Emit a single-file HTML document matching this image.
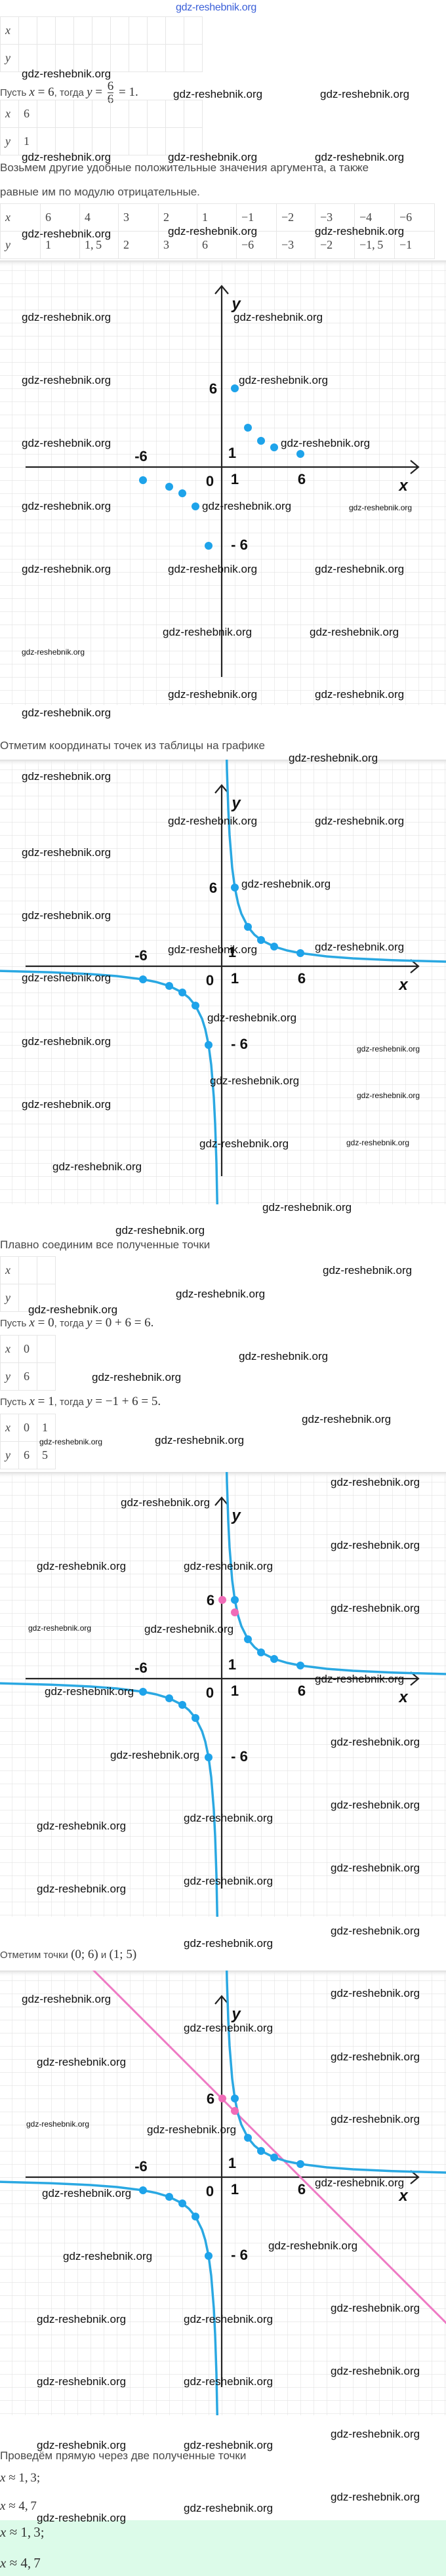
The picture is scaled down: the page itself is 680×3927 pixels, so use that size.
<!DOCTYPE html>
<html><head><meta charset="utf-8">
<style>
*{margin:0;padding:0;box-sizing:border-box}
body{width:680px;height:3927px;position:relative;background:#fff;overflow:hidden;font-family:"Liberation Sans",sans-serif;color:#444}
.a{position:absolute;white-space:nowrap}
.w{position:absolute;white-space:nowrap;font-family:"Liberation Sans",sans-serif;font-size:17px;line-height:20px;color:#111;z-index:5}
.ws{font-size:12px;line-height:14px}
.t{font-size:15px;line-height:20px;color:#4a4a4a}
.m{font-family:"Liberation Serif",serif;font-size:19px;color:#333}
.mi{font-style:italic}
table{position:absolute;border-collapse:collapse;font-family:"Liberation Serif",serif;font-size:18px;color:#444}
td{border:1px solid #e6e6e6;height:42px;padding-left:7px;vertical-align:middle}
.g{position:absolute;left:0;width:680px;height:678px}
.frac{display:inline-block;vertical-align:middle;text-align:center;line-height:19px;margin:0 3px}
.frac span{display:block}
.frac .n{border-bottom:1px solid #333}
</style></head><body>

<div class="a" style="left:268px;top:2px;font-size:16px;color:#3a5fd8;line-height:20px;letter-spacing:-0.3px">gdz-reshebnik.org</div>

<!-- Table 1 -->
<table style="top:25px;left:0"><tr><td style="width:28px" class="mi">x</td><td style="width:28px"></td><td style="width:28px"></td><td style="width:28px"></td><td style="width:28px"></td><td style="width:28px"></td><td style="width:28px"></td><td style="width:28px"></td><td style="width:28px"></td><td style="width:28px"></td><td style="width:28px"></td></tr>
<tr><td class="mi">y</td><td></td><td></td><td></td><td></td><td></td><td></td><td></td><td></td><td></td><td></td></tr></table>

<div class="a t" style="left:0;top:122px;line-height:24px">Пусть <span class="m"><i>x</i> = 6</span>, тогда <span class="m"><i>y</i> = <span class="frac"><span class="n">6</span><span>6</span></span> = 1.</span></div>

<table style="top:152px;left:0"><tr><td style="width:28px" class="mi">x</td><td style="width:28px">6</td><td style="width:28px"></td><td style="width:28px"></td><td style="width:28px"></td><td style="width:28px"></td><td style="width:28px"></td><td style="width:28px"></td><td style="width:28px"></td><td style="width:28px"></td><td style="width:28px"></td></tr>
<tr><td class="mi">y</td><td>1</td><td></td><td></td><td></td><td></td><td></td><td></td><td></td><td></td><td></td></tr></table>

<div class="a t" style="left:0;top:246px;font-size:17px">Возьмем другие удобные положительные значения аргумента, а также</div>
<div class="a t" style="left:0;top:283px;font-size:17px">равные им по модулю отрицательные.</div>

<table style="top:310px;left:0"><tr><td style="width:61px" class="mi">x</td><td style="width:60px">6</td><td style="width:59px">4</td><td style="width:61px">3</td><td style="width:59px">2</td><td style="width:60px">1</td><td style="width:61px">−1</td><td style="width:59px">−2</td><td style="width:60px">−3</td><td style="width:61px">−4</td><td style="width:61px">−6</td></tr>
<tr><td class="mi">y</td><td>1</td><td>1,&thinsp;5</td><td>2</td><td>3</td><td>6</td><td>−6</td><td>−3</td><td>−2</td><td>−1,&thinsp;5</td><td>−1</td></tr></table>

<!-- Graph 1 -->
<svg class="g" style="top:397px" viewBox="0 0 680 678">
<defs><pattern id="p1" x="18" y="15" width="20" height="20" patternUnits="userSpaceOnUse"><path d="M0 0H20M0 0V20" stroke="#e2e2e2" stroke-width="1.2" fill="none"/></pattern>
<linearGradient id="sh" x1="0" y1="0" x2="0" y2="1"><stop offset="0" stop-color="#ddd"/><stop offset="1" stop-color="#fff" stop-opacity="0"/></linearGradient></defs>
<rect width="680" height="678" fill="url(#p1)"/><rect width="680" height="10" fill="url(#sh)"/>
<g transform="translate(338,315)">
<path d="M-299 0H300M288-10L300 0L288 10M0 320V-276M-10-264L0-276L10-264" stroke="#222" stroke-width="2.2" fill="none"/>
<g fill="#1ea3ea"><circle cx="20" cy="-120" r="6"/><circle cx="40" cy="-60" r="6"/><circle cx="60" cy="-40" r="6"/><circle cx="80" cy="-30" r="6"/><circle cx="120" cy="-20" r="6"/><circle cx="-20" cy="120" r="6"/><circle cx="-40" cy="60" r="6"/><circle cx="-60" cy="40" r="6"/><circle cx="-80" cy="30" r="6"/><circle cx="-120" cy="20" r="6"/></g>
<g font-family="Liberation Sans,sans-serif" font-weight="bold" font-size="22" fill="#111" text-anchor="middle">
<text x="22" y="-241" font-style="italic" font-size="24">y</text><text x="-13" y="-112">6</text><text x="16" y="-14">1</text><text x="-123" y="-9">-6</text><text x="-18" y="29">0</text><text x="20" y="26">1</text><text x="122" y="26">6</text><text x="277" y="36" font-style="italic" font-size="24">x</text><text x="27" y="126">- 6</text></g>
</g></svg>

<div class="a t" style="left:0;top:1127px;font-size:17px">Отметим координаты точек из таблицы на графике</div>

<!-- Graph 2 -->
<svg class="g" style="top:1158px" viewBox="0 0 680 678">
<defs><pattern id="p2" x="18" y="15" width="20" height="20" patternUnits="userSpaceOnUse"><path d="M0 0H20M0 0V20" stroke="#e2e2e2" stroke-width="1.2" fill="none"/></pattern></defs>
<rect width="680" height="678" fill="url(#p2)"/><rect width="680" height="10" fill="url(#sh)"/>
<g transform="translate(338,315)">
<path d="M-299 0H300M288-10L300 0L288 10M0 320V-276M-10-264L0-276L10-264" stroke="#222" stroke-width="2.2" fill="none"/>
<path d="M6-400L8-300L10-240L12-200L16-150L20-120L25-96L30-80L40-60L50-48L60-40L80-30L100-24L120-20L160-15L200-12L260-9.2L342-7" stroke="#2aa8e2" stroke-width="3.5" fill="none"/>
<path d="M-6 400L-8 300L-10 240L-12 200L-16 150L-20 120L-25 96L-30 80L-40 60L-50 48L-60 40L-80 30L-100 24L-120 20L-160 15L-200 12L-260 9.2L-342 7" stroke="#2aa8e2" stroke-width="3.5" fill="none"/>
<g fill="#1ea3ea"><circle cx="20" cy="-120" r="6"/><circle cx="40" cy="-60" r="6"/><circle cx="60" cy="-40" r="6"/><circle cx="80" cy="-30" r="6"/><circle cx="120" cy="-20" r="6"/><circle cx="-20" cy="120" r="6"/><circle cx="-40" cy="60" r="6"/><circle cx="-60" cy="40" r="6"/><circle cx="-80" cy="30" r="6"/><circle cx="-120" cy="20" r="6"/></g>
<g font-family="Liberation Sans,sans-serif" font-weight="bold" font-size="22" fill="#111" text-anchor="middle">
<text x="22" y="-241" font-style="italic" font-size="24">y</text><text x="-13" y="-112">6</text><text x="16" y="-14">1</text><text x="-123" y="-9">-6</text><text x="-18" y="29">0</text><text x="20" y="26">1</text><text x="122" y="26">6</text><text x="277" y="36" font-style="italic" font-size="24">x</text><text x="27" y="126">- 6</text></g>
</g></svg>

<div class="a t" style="left:0;top:1888px;font-size:17px">Плавно соединим все полученные точки</div>
<table style="top:1915px;left:0"><tr><td style="width:28px" class="mi">x</td><td style="width:28px"></td><td style="width:28px"></td></tr><tr><td class="mi">y</td><td></td><td></td></tr></table>
<div class="a t" style="left:0;top:2005px;line-height:24px">Пусть <span class="m"><i>x</i> = 0</span>, тогда <span class="m"><i>y</i> = 0 + 6 = 6.</span></div>
<table style="top:2035px;left:0"><tr><td style="width:28px" class="mi">x</td><td style="width:28px">0</td><td style="width:28px"></td></tr><tr><td class="mi">y</td><td>6</td><td></td></tr></table>
<div class="a t" style="left:0;top:2125px;line-height:24px">Пусть <span class="m"><i>x</i> = 1</span>, тогда <span class="m"><i>y</i> = −1 + 6 = 5.</span></div>
<table style="top:2155px;left:0"><tr><td style="width:28px" class="mi">x</td><td style="width:28px">0</td><td style="width:28px">1</td></tr><tr><td class="mi">y</td><td>6</td><td>5</td></tr></table>

<!-- Graph 3 -->
<svg class="g" style="top:2244px" viewBox="0 0 680 678">
<defs><pattern id="p3" x="18" y="15" width="20" height="20" patternUnits="userSpaceOnUse"><path d="M0 0H20M0 0V20" stroke="#e2e2e2" stroke-width="1.2" fill="none"/></pattern></defs>
<rect width="680" height="678" fill="url(#p3)"/><rect width="680" height="10" fill="url(#sh)"/>
<g transform="translate(338,315)">
<path d="M-299 0H300M288-10L300 0L288 10M0 320V-276M-10-264L0-276L10-264" stroke="#222" stroke-width="2.2" fill="none"/>
<path d="M6-400L8-300L10-240L12-200L16-150L20-120L25-96L30-80L40-60L50-48L60-40L80-30L100-24L120-20L160-15L200-12L260-9.2L342-7" stroke="#2aa8e2" stroke-width="3.5" fill="none"/>
<path d="M-6 400L-8 300L-10 240L-12 200L-16 150L-20 120L-25 96L-30 80L-40 60L-50 48L-60 40L-80 30L-100 24L-120 20L-160 15L-200 12L-260 9.2L-342 7" stroke="#2aa8e2" stroke-width="3.5" fill="none"/>
<g fill="#1ea3ea"><circle cx="20" cy="-120" r="6"/><circle cx="40" cy="-60" r="6"/><circle cx="60" cy="-40" r="6"/><circle cx="80" cy="-30" r="6"/><circle cx="120" cy="-20" r="6"/><circle cx="-20" cy="120" r="6"/><circle cx="-40" cy="60" r="6"/><circle cx="-60" cy="40" r="6"/><circle cx="-80" cy="30" r="6"/><circle cx="-120" cy="20" r="6"/></g>
<g fill="#f06cb8"><circle cx="1" cy="-120" r="6"/><circle cx="20" cy="-101" r="6"/></g>
<g font-family="Liberation Sans,sans-serif" font-weight="bold" font-size="22" fill="#111" text-anchor="middle">
<text x="22" y="-241" font-style="italic" font-size="24">y</text><text x="-17" y="-112">6</text><text x="16" y="-14">1</text><text x="-123" y="-9">-6</text><text x="-18" y="29">0</text><text x="20" y="26">1</text><text x="122" y="26">6</text><text x="277" y="36" font-style="italic" font-size="24">x</text><text x="27" y="126">- 6</text></g>
</g></svg>

<div class="a t" style="left:0;top:2969px;line-height:22px">Отметим точки <span class="m">(0; 6)</span> и <span class="m">(1; 5)</span></div>

<!-- Graph 4 -->
<svg class="g" style="top:3004px" viewBox="0 0 680 678">
<defs><pattern id="p4" x="18" y="15" width="20" height="20" patternUnits="userSpaceOnUse"><path d="M0 0H20M0 0V20" stroke="#e2e2e2" stroke-width="1.2" fill="none"/></pattern></defs>
<rect width="680" height="678" fill="url(#p4)"/><rect width="680" height="10" fill="url(#sh)"/>
<g transform="translate(338,315)">
<path d="M-299 0H300M288-10L300 0L288 10M0 320V-276M-10-264L0-276L10-264" stroke="#222" stroke-width="2.2" fill="none"/>
<path d="M-200-320L360 240" stroke="#ee7ac4" stroke-width="3" fill="none"/>
<path d="M6-400L8-300L10-240L12-200L16-150L20-120L25-96L30-80L40-60L50-48L60-40L80-30L100-24L120-20L160-15L200-12L260-9.2L342-7" stroke="#2aa8e2" stroke-width="3.5" fill="none"/>
<path d="M-6 400L-8 300L-10 240L-12 200L-16 150L-20 120L-25 96L-30 80L-40 60L-50 48L-60 40L-80 30L-100 24L-120 20L-160 15L-200 12L-260 9.2L-342 7" stroke="#2aa8e2" stroke-width="3.5" fill="none"/>
<g fill="#1ea3ea"><circle cx="20" cy="-120" r="6"/><circle cx="40" cy="-60" r="6"/><circle cx="60" cy="-40" r="6"/><circle cx="80" cy="-30" r="6"/><circle cx="120" cy="-20" r="6"/><circle cx="-20" cy="120" r="6"/><circle cx="-40" cy="60" r="6"/><circle cx="-60" cy="40" r="6"/><circle cx="-80" cy="30" r="6"/><circle cx="-120" cy="20" r="6"/></g>
<g fill="#f06cb8"><circle cx="1" cy="-120" r="6"/><circle cx="20" cy="-101" r="6"/></g>
<g font-family="Liberation Sans,sans-serif" font-weight="bold" font-size="22" fill="#111" text-anchor="middle">
<text x="22" y="-241" font-style="italic" font-size="24">y</text><text x="-17" y="-112">6</text><text x="16" y="-14">1</text><text x="-123" y="-9">-6</text><text x="-18" y="29">0</text><text x="20" y="26">1</text><text x="122" y="26">6</text><text x="277" y="36" font-style="italic" font-size="24">x</text><text x="27" y="126">- 6</text></g>
</g></svg>

<div class="a t" style="left:0;top:3734px;font-size:17px">Проведём прямую через две полученные точки</div>
<div class="a m" style="left:0;top:3766px;line-height:24px"><i>x</i> ≈ 1,&thinsp;3;</div>
<div class="a m" style="left:0;top:3809px;line-height:24px"><i>x</i> ≈ 4,&thinsp;7</div>
<div class="a" style="left:0;top:3842px;width:680px;height:85px;background:#dcfbe9"></div>
<div class="a m" style="left:0;top:3846px;line-height:28px;font-size:21px"><i>x</i> ≈ 1,&thinsp;3;</div>
<div class="a m" style="left:0;top:3893px;line-height:28px;font-size:21px"><i>x</i> ≈ 4,&thinsp;7</div>

<!-- watermarks -->
<div class="w" style="left:33px;top:103px">gdz-reshebnik.org</div>
<div class="w" style="left:264px;top:134px">gdz-reshebnik.org</div>
<div class="w" style="left:488px;top:134px">gdz-reshebnik.org</div>
<div class="w" style="left:33px;top:230px">gdz-reshebnik.org</div>
<div class="w" style="left:256px;top:230px">gdz-reshebnik.org</div>
<div class="w" style="left:480px;top:230px">gdz-reshebnik.org</div>
<div class="w" style="left:33px;top:347px">gdz-reshebnik.org</div>
<div class="w" style="left:256px;top:343px">gdz-reshebnik.org</div>
<div class="w" style="left:480px;top:343px">gdz-reshebnik.org</div>

<div class="w" style="left:33px;top:474px">gdz-reshebnik.org</div>
<div class="w" style="left:356px;top:474px">gdz-reshebnik.org</div>
<div class="w" style="left:33px;top:570px">gdz-reshebnik.org</div>
<div class="w" style="left:364px;top:570px">gdz-reshebnik.org</div>
<div class="w" style="left:33px;top:666px">gdz-reshebnik.org</div>
<div class="w" style="left:428px;top:666px">gdz-reshebnik.org</div>
<div class="w" style="left:33px;top:762px">gdz-reshebnik.org</div>
<div class="w" style="left:308px;top:762px">gdz-reshebnik.org</div>
<div class="w ws" style="left:532px;top:767px">gdz-reshebnik.org</div>
<div class="w" style="left:33px;top:858px">gdz-reshebnik.org</div>
<div class="w" style="left:256px;top:858px">gdz-reshebnik.org</div>
<div class="w" style="left:480px;top:858px">gdz-reshebnik.org</div>
<div class="w" style="left:248px;top:954px">gdz-reshebnik.org</div>
<div class="w" style="left:472px;top:954px">gdz-reshebnik.org</div>
<div class="w ws" style="left:33px;top:987px">gdz-reshebnik.org</div>
<div class="w" style="left:256px;top:1049px">gdz-reshebnik.org</div>
<div class="w" style="left:480px;top:1049px">gdz-reshebnik.org</div>
<div class="w" style="left:33px;top:1077px">gdz-reshebnik.org</div>

<div class="w" style="left:440px;top:1146px">gdz-reshebnik.org</div>
<div class="w" style="left:33px;top:1174px">gdz-reshebnik.org</div>
<div class="w" style="left:256px;top:1242px">gdz-reshebnik.org</div>
<div class="w" style="left:480px;top:1242px">gdz-reshebnik.org</div>
<div class="w" style="left:33px;top:1290px">gdz-reshebnik.org</div>
<div class="w" style="left:368px;top:1338px">gdz-reshebnik.org</div>
<div class="w" style="left:33px;top:1386px">gdz-reshebnik.org</div>
<div class="w" style="left:256px;top:1438px">gdz-reshebnik.org</div>
<div class="w" style="left:480px;top:1434px">gdz-reshebnik.org</div>
<div class="w" style="left:33px;top:1481px">gdz-reshebnik.org</div>
<div class="w" style="left:316px;top:1542px">gdz-reshebnik.org</div>
<div class="w" style="left:33px;top:1578px">gdz-reshebnik.org</div>
<div class="w ws" style="left:544px;top:1592px">gdz-reshebnik.org</div>
<div class="w" style="left:320px;top:1638px">gdz-reshebnik.org</div>
<div class="w ws" style="left:544px;top:1663px">gdz-reshebnik.org</div>
<div class="w" style="left:33px;top:1674px">gdz-reshebnik.org</div>
<div class="w" style="left:304px;top:1734px">gdz-reshebnik.org</div>
<div class="w ws" style="left:528px;top:1735px">gdz-reshebnik.org</div>
<div class="w" style="left:80px;top:1769px">gdz-reshebnik.org</div>
<div class="w" style="left:400px;top:1831px">gdz-reshebnik.org</div>

<div class="w" style="left:176px;top:1866px">gdz-reshebnik.org</div>
<div class="w" style="left:492px;top:1927px">gdz-reshebnik.org</div>
<div class="w" style="left:268px;top:1963px">gdz-reshebnik.org</div>
<div class="w" style="left:43px;top:1987px">gdz-reshebnik.org</div>
<div class="w" style="left:364px;top:2058px">gdz-reshebnik.org</div>
<div class="w" style="left:140px;top:2090px">gdz-reshebnik.org</div>
<div class="w" style="left:460px;top:2154px">gdz-reshebnik.org</div>
<div class="w ws" style="left:60px;top:2191px">gdz-reshebnik.org</div>
<div class="w" style="left:236px;top:2186px">gdz-reshebnik.org</div>

<div class="w" style="left:504px;top:2250px">gdz-reshebnik.org</div>
<div class="w" style="left:184px;top:2281px">gdz-reshebnik.org</div>
<div class="w" style="left:504px;top:2346px">gdz-reshebnik.org</div>
<div class="w" style="left:56px;top:2378px">gdz-reshebnik.org</div>
<div class="w" style="left:280px;top:2378px">gdz-reshebnik.org</div>
<div class="w" style="left:504px;top:2442px">gdz-reshebnik.org</div>
<div class="w ws" style="left:43px;top:2475px">gdz-reshebnik.org</div>
<div class="w" style="left:220px;top:2474px">gdz-reshebnik.org</div>
<div class="w" style="left:480px;top:2550px">gdz-reshebnik.org</div>
<div class="w" style="left:68px;top:2569px">gdz-reshebnik.org</div>
<div class="w" style="left:504px;top:2646px">gdz-reshebnik.org</div>
<div class="w" style="left:168px;top:2666px">gdz-reshebnik.org</div>
<div class="w" style="left:504px;top:2742px">gdz-reshebnik.org</div>
<div class="w" style="left:56px;top:2774px">gdz-reshebnik.org</div>
<div class="w" style="left:280px;top:2762px">gdz-reshebnik.org</div>
<div class="w" style="left:504px;top:2838px">gdz-reshebnik.org</div>
<div class="w" style="left:56px;top:2870px">gdz-reshebnik.org</div>
<div class="w" style="left:280px;top:2858px">gdz-reshebnik.org</div>
<div class="w" style="left:504px;top:2934px">gdz-reshebnik.org</div>
<div class="w" style="left:280px;top:2953px">gdz-reshebnik.org</div>

<div class="w" style="left:33px;top:3038px">gdz-reshebnik.org</div>
<div class="w" style="left:504px;top:3029px">gdz-reshebnik.org</div>
<div class="w" style="left:280px;top:3082px">gdz-reshebnik.org</div>
<div class="w" style="left:56px;top:3134px">gdz-reshebnik.org</div>
<div class="w" style="left:504px;top:3126px">gdz-reshebnik.org</div>
<div class="w" style="left:504px;top:3221px">gdz-reshebnik.org</div>
<div class="w ws" style="left:40px;top:3231px">gdz-reshebnik.org</div>
<div class="w" style="left:224px;top:3237px">gdz-reshebnik.org</div>
<div class="w" style="left:64px;top:3334px">gdz-reshebnik.org</div>
<div class="w" style="left:480px;top:3318px">gdz-reshebnik.org</div>
<div class="w" style="left:96px;top:3430px">gdz-reshebnik.org</div>
<div class="w" style="left:409px;top:3414px">gdz-reshebnik.org</div>
<div class="w" style="left:56px;top:3526px">gdz-reshebnik.org</div>
<div class="w" style="left:280px;top:3526px">gdz-reshebnik.org</div>
<div class="w" style="left:504px;top:3509px">gdz-reshebnik.org</div>
<div class="w" style="left:56px;top:3621px">gdz-reshebnik.org</div>
<div class="w" style="left:280px;top:3621px">gdz-reshebnik.org</div>
<div class="w" style="left:504px;top:3605px">gdz-reshebnik.org</div>
<div class="w" style="left:56px;top:3718px">gdz-reshebnik.org</div>
<div class="w" style="left:280px;top:3718px">gdz-reshebnik.org</div>
<div class="w" style="left:504px;top:3701px">gdz-reshebnik.org</div>
<div class="w" style="left:504px;top:3797px">gdz-reshebnik.org</div>
<div class="w" style="left:280px;top:3814px">gdz-reshebnik.org</div>
<div class="w" style="left:56px;top:3829px">gdz-reshebnik.org</div>
</body></html>
